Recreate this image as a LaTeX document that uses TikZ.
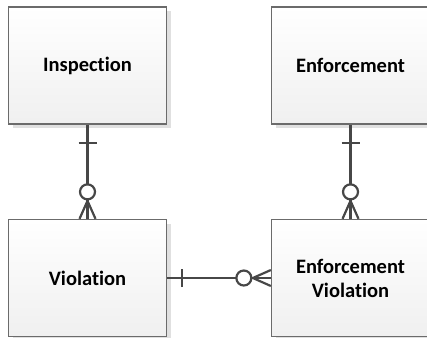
\documentclass[tikz,border=0pt]{standalone}
\usepackage{fontspec}
\setmainfont[Ligatures=NoCommon]{Carlito}
\usetikzlibrary{shadows}
\tikzset{
  ent/.style={draw=black!58, line width=1.3pt, top color=white, bottom color=black!6,
    minimum width=158pt, minimum height=117pt, inner sep=0pt, align=center,
    font=\fontsize{20.5}{24}\selectfont\bfseries,
    drop shadow={shadow xshift=4pt, shadow yshift=-4pt, fill=black!12, opacity=1}},
  rel/.style={draw=black!72, line width=2.2pt},
  circ/.style={circle, draw=black!72, line width=2.2pt, fill=white, minimum size=15pt, inner sep=0pt}
}
\begin{document}
\begin{tikzpicture}[x=1pt,y=-1pt]
\useasboundingbox (0,0) rectangle (427,337);
\node[ent] (insp) at (87.5,65.5) {Inspection};
\node[ent] (enf) at (350.5,65.5) {Enforcement};
\node[ent] (viol) at (87.5,278) {Violation};
\node[ent] (ev) at (350.5,278) {Enforcement\\Violation};
% Inspection - Violation
\draw[rel] (insp.south) -- (viol.north);
\draw[rel] ([xshift=-9pt,yshift=-18pt]insp.south) -- ([xshift=9pt,yshift=-18pt]insp.south);
\draw[rel] ([xshift=-8pt]viol.north) -- ([yshift=18pt]viol.north) -- ([xshift=8pt]viol.north);
\node[circ] (c1) at ([yshift=27pt]viol.north) {};
% Enforcement - EV
\draw[rel] (enf.south) -- (ev.north);
\draw[rel] ([xshift=-9pt,yshift=-18pt]enf.south) -- ([xshift=9pt,yshift=-18pt]enf.south);
\draw[rel] ([xshift=-8pt]ev.north) -- ([yshift=18pt]ev.north) -- ([xshift=8pt]ev.north);
\node[circ] (c2) at ([yshift=27pt]ev.north) {};
% Violation - EV
\draw[rel] (viol.east) -- (ev.west);
\draw[rel] ([xshift=15pt,yshift=-9pt]viol.east) -- ([xshift=15pt,yshift=9pt]viol.east);
\draw[rel] ([yshift=-8pt]ev.west) -- ([xshift=-18pt]ev.west) -- ([yshift=8pt]ev.west);
\node[circ] (c3) at ([xshift=-27pt]ev.west) {};
\end{tikzpicture}
\end{document}
